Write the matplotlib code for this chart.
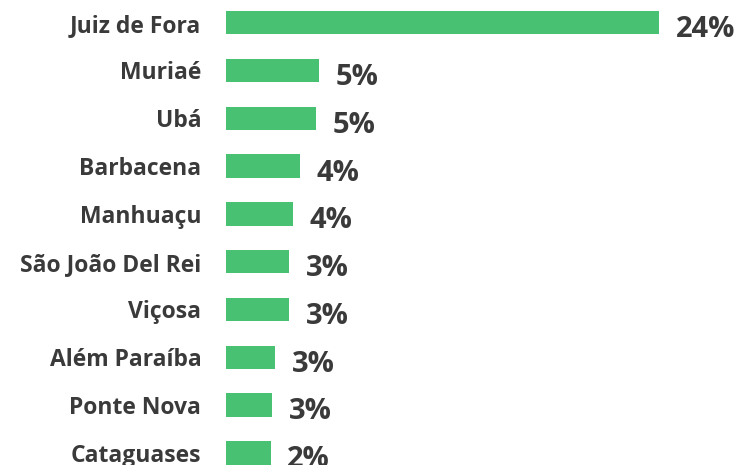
import matplotlib.pyplot as plt

cidades = ["Juiz de Fora", "Muriaé", "Ubá", "Barbacena", "Manhuaçu",
           "São João Del Rei", "Viçosa", "Além Paraíba", "Ponte Nova", "Cataguases"]
valores = [24.0, 5.12, 4.99, 4.10, 3.70, 3.49, 3.49, 2.70, 2.55, 2.46]
rotulos = ["24%", "5%", "5%", "4%", "4%", "3%", "3%", "3%", "3%", "2%"]

verde = "#49C172"
cinza = "#3A3A3A"

plt.rcParams['font.family'] = ['Open Sans', 'DejaVu Sans']

fig = plt.figure(figsize=(7.38, 4.65), dpi=100)
ax = fig.add_axes([226.3 / 738, 0, 433 / 738 * 28 / 24, 1])

pos = list(range(len(cidades)))
ax.barh(pos, valores, height=0.49, color=verde)
ax.set_xlim(0, 28)
ax.set_ylim(9.255, -0.475)

ax.set_yticks(pos)
ax.set_yticklabels(cidades, fontsize=16.5, fontweight='bold', color=cinza)
ax.tick_params(axis='y', length=0, pad=18)
ax.set_xticks([])
for s in ax.spines.values():
    s.set_visible(False)

for i, (v, r) in enumerate(zip(valores, rotulos)):
    ax.annotate(r, (v, i), xytext=(12, -5), textcoords='offset points',
                ha='left', va='center', fontsize=21, fontweight='bold',
                color=cinza, annotation_clip=False)

fig.savefig("out.png", dpi=100)
